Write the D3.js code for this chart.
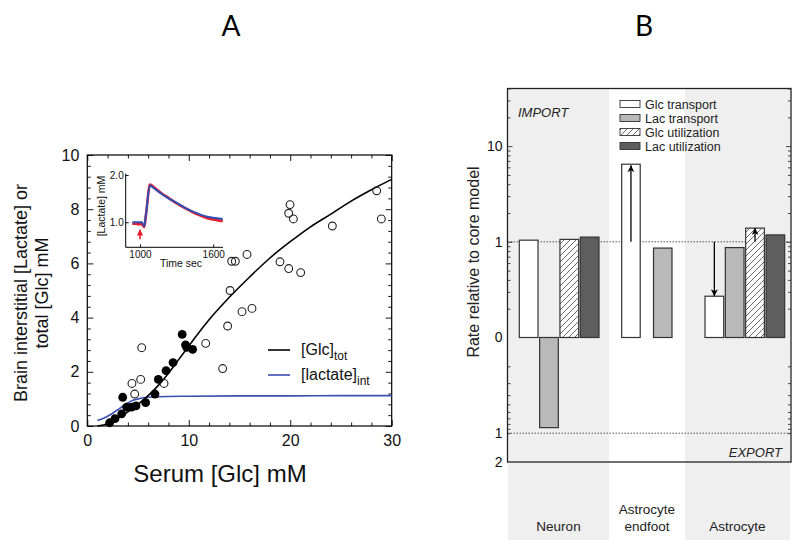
<!DOCTYPE html>
<html><head><meta charset="utf-8">
<script src="https://cdn.jsdelivr.net/npm/d3@7"></script>
<style>
html,body{margin:0;padding:0;background:#fff;}
svg{display:block;font-family:"Liberation Sans",Arial,sans-serif;}
</style></head>
<body>
<svg id="chart" width="800" height="555"></svg>
<script>
// ---------------- DATA: Panel A ----------------
const filledX = [2.2, 2.73, 3.39, 3.49, 3.88, 4.37, 4.8, 5.75, 6.67, 7.0, 7.76, 8.45, 9.35, 9.68, 9.8, 10.38];
const filledY = [0.12, 0.27, 0.45, 1.06, 0.7, 0.7, 0.74, 0.86, 1.18, 1.72, 2.04, 2.34, 3.38, 2.99, 2.9, 2.83];
const openX = [4.4, 4.67, 5.26, 5.36, 7.56, 11.67, 13.34, 13.83, 14.07, 14.23, 14.59, 15.25, 15.74, 16.23, 18.99, 19.85, 19.85, 19.98, 20.31, 21.03, 24.15, 28.52, 28.98];
const openY = [1.57, 1.18, 1.72, 2.89, 1.57, 3.05, 2.12, 3.69, 5.0, 6.08, 6.08, 4.22, 6.33, 4.34, 6.06, 5.81, 7.85, 8.17, 7.64, 5.66, 7.38, 8.68, 7.64];
const glcCurveX = [1, 2, 3, 4, 5, 6, 7, 8, 9, 10, 11, 12, 14, 16, 18, 20, 22, 24, 26, 28, 30];
const glcCurveY = [0, 0.08, 0.28, 0.52, 0.8, 1.12, 1.5, 1.95, 2.45, 2.95, 3.45, 3.92, 4.75, 5.5, 6.2, 6.8, 7.35, 7.82, 8.3, 8.72, 9.1];
const lacCurveX = [1, 1.5, 2, 2.5, 3, 3.5, 4, 4.5, 5, 5.5, 6, 7, 8, 10, 15, 20, 25, 30];
const lacCurveY = [0.2, 0.27, 0.36, 0.47, 0.6, 0.73, 0.85, 0.95, 1.0, 1.04, 1.06, 1.08, 1.09, 1.1, 1.11, 1.11, 1.12, 1.12];
const xTicksA = [0, 10, 20, 30];
const yTicksA = [0, 2, 4, 6, 8, 10];
const legendA = ["[Glc]", "[lactate]"];
const legendASub = ["tot", "int"];
// inset
const insetT = [937, 960, 990, 1014, 1035, 1050, 1082, 1100, 1130, 1178, 1230, 1287, 1340, 1396, 1450, 1506, 1560, 1620, 1678];
const insetBlue = [1.0, 1.0, 1.0, 1.0, 0.92, 1.19, 1.78, 1.75, 1.69, 1.60, 1.51, 1.43, 1.35, 1.27, 1.21, 1.15, 1.11, 1.09, 1.07];
const insetRed = [0.97, 0.97, 0.96, 0.96, 0.9, 1.18, 1.8, 1.77, 1.71, 1.61, 1.52, 1.42, 1.34, 1.26, 1.19, 1.13, 1.08, 1.05, 1.02];
const insetXTicks = [1000, 1600];
const insetYTicks = [1.0, 2.0];
const insetArrowT = 1000, insetArrowFrom = 0.64, insetArrowTo = 0.84;

// ---------------- DATA: Panel B ----------------
const groups = ["Neuron", "Astrocyte endfoot", "Astrocyte"];
const groupLabels = [["Neuron"], ["Astrocyte", "endfoot"], ["Astrocyte"]];
const seriesNames = ["Glc transport", "Lac transport", "Glc utilization", "Lac utilization"];
// positive = import, negative = export (magnitude = rate relative to core model)
const neuronValues = [1.04, -0.875, 1.06, 1.12];
const endfootValues = [6.47, 0.86, null, null];
const astrocyteValues = [0.27, 0.87, 1.39, 1.18];
const arrowGroups = ["Astrocyte endfoot", "Astrocyte", "Astrocyte"];
const arrowSeries = ["Glc transport", "Glc transport", "Glc utilization"];
const arrowFrom = [1, 1, 1];
const arrowTo = [6.3, 0.27, 1.39];
const importTickLabels = [0.1, 1, 10];
const exportTickLabels = [1, 2];

// ---------------- DRAW ----------------
const svg = d3.select("#chart");
const defs = svg.append("defs");

// ===== Panel A =====
const xA = d3.scaleLinear().domain([0, 30]).range([87.3, 391.7]);
const yA = d3.scaleLinear().domain([0, 10]).range([426, 155]);
const gA = svg.append("g");

svg.append("text").attr("x", 231).attr("y", 36).attr("text-anchor", "middle")
  .attr("font-size", 28).attr("font-family", "Lato, 'Liberation Sans', sans-serif").text("A");

// frame
gA.append("rect").attr("x", xA(0)).attr("y", yA(10)).attr("width", xA(30) - xA(0)).attr("height", yA(0) - yA(10))
  .attr("fill", "none").attr("stroke", "#000").attr("stroke-width", 1.2);

function styleAxis(g) {
  g.select(".domain").remove();
  g.selectAll(".tick line").attr("stroke", "#000").attr("stroke-width", 0.9);
}
const xMinorA = d3.range(0, 30.01, 2).filter(v => v % 10 !== 0);
const yMinorA = d3.range(0, 10.01, 0.4).map(v => +v.toFixed(2)).filter(v => Math.abs(v % 2) > 1e-6 && Math.abs(v % 2 - 2) > 1e-6);
// bottom
gA.append("g").attr("transform", `translate(0,${yA(0)})`)
  .call(d3.axisBottom(xA).tickValues(xTicksA).tickSize(-6).tickPadding(9).tickFormat(d3.format("d")))
  .call(styleAxis).call(g => g.selectAll("text").attr("font-size", 16).attr("fill", "#111"));
gA.append("g").attr("transform", `translate(0,${yA(0)})`)
  .call(d3.axisBottom(xA).tickValues(xMinorA).tickSize(-3.5).tickFormat("")).call(styleAxis);
// top
gA.append("g").attr("transform", `translate(0,${yA(10)})`)
  .call(d3.axisTop(xA).tickValues(xTicksA).tickSize(-6).tickFormat("")).call(styleAxis);
gA.append("g").attr("transform", `translate(0,${yA(10)})`)
  .call(d3.axisTop(xA).tickValues(xMinorA).tickSize(-3.5).tickFormat("")).call(styleAxis);
// left
gA.append("g").attr("transform", `translate(${xA(0)},0)`)
  .call(d3.axisLeft(yA).tickValues(yTicksA).tickSize(-6).tickPadding(8).tickFormat(d3.format("d")))
  .call(styleAxis).call(g => g.selectAll("text").attr("font-size", 16).attr("fill", "#111"));
gA.append("g").attr("transform", `translate(${xA(0)},0)`)
  .call(d3.axisLeft(yA).tickValues(yMinorA).tickSize(-3.5).tickFormat("")).call(styleAxis);
// right
gA.append("g").attr("transform", `translate(${xA(30)},0)`)
  .call(d3.axisRight(yA).tickValues(yTicksA).tickSize(-6).tickFormat("")).call(styleAxis);
gA.append("g").attr("transform", `translate(${xA(30)},0)`)
  .call(d3.axisRight(yA).tickValues(yMinorA).tickSize(-3.5).tickFormat("")).call(styleAxis);

// axis titles
gA.append("text").attr("x", 220).attr("y", 482).attr("text-anchor", "middle")
  .attr("font-size", 24).attr("fill", "#111").text("Serum [Glc] mM");
const yTitle = gA.append("text").attr("transform", "translate(27,293) rotate(-90)")
  .attr("text-anchor", "middle").attr("font-size", 18).attr("fill", "#111");
yTitle.append("tspan").attr("x", 0).attr("y", 0).text("Brain interstitial [Lactate] or");
yTitle.append("tspan").attr("x", 0).attr("y", 21).text("total [Glc] mM");

// curves
const lineA = d3.line().x(d => xA(d[0])).y(d => yA(d[1])).curve(d3.curveMonotoneX);
gA.append("path").datum(lacCurveX.map((x, i) => [x, lacCurveY[i]]))
  .attr("d", lineA).attr("fill", "none").attr("stroke", "#3a4fb0").attr("stroke-width", 1.6);
gA.append("path").datum(glcCurveX.map((x, i) => [x, glcCurveY[i]]))
  .attr("d", lineA).attr("fill", "none").attr("stroke", "#000").attr("stroke-width", 1.6);

// points
gA.append("g").selectAll("circle").data(openX.map((x, i) => [x, openY[i]])).join("circle")
  .attr("cx", d => xA(d[0])).attr("cy", d => yA(d[1])).attr("r", 3.9)
  .attr("fill", "none").attr("stroke", "#222").attr("stroke-width", 1.1);
gA.append("g").selectAll("circle").data(filledX.map((x, i) => [x, filledY[i]])).join("circle")
  .attr("cx", d => xA(d[0])).attr("cy", d => yA(d[1])).attr("r", 4.4).attr("fill", "#000");

// legend A
const legAColors = ["#000", "#3a4fb0"];
legendA.forEach((t, i) => {
  const y = 350 + i * 25;
  gA.append("line").attr("x1", 268).attr("x2", 290).attr("y1", y).attr("y2", y)
    .attr("stroke", legAColors[i]).attr("stroke-width", 1.6);
  const tx = gA.append("text").attr("x", 301).attr("y", y + 5).attr("font-size", 16).attr("fill", "#111");
  tx.append("tspan").text(t);
  tx.append("tspan").attr("font-size", 12).attr("dy", 5).text(legendASub[i]);
});

// inset
const xI = d3.scaleLinear().domain([883, 1680]).range([125.7, 223]);
const yIn = d3.scaleLinear().domain([0.47, 2.0]).range([247.3, 175]);
const gI = svg.append("g");
gI.append("line").attr("x1", xI(883)).attr("x2", xI(883)).attr("y1", yIn(0.47)).attr("y2", yIn(2.03)).attr("stroke", "#000").attr("stroke-width", 1);
gI.append("line").attr("x1", xI(883)).attr("x2", xI(1680)).attr("y1", yIn(0.47)).attr("y2", yIn(0.47)).attr("stroke", "#000").attr("stroke-width", 1);
gI.append("g").attr("transform", `translate(0,${yIn(0.47)})`)
  .call(d3.axisBottom(xI).tickValues(insetXTicks).tickSize(-3).tickPadding(4).tickFormat(d3.format("d")))
  .call(styleAxis).call(g => g.selectAll("text").attr("font-size", 10).attr("fill", "#111"));
gI.append("g").attr("transform", `translate(${xI(883)},0)`)
  .call(d3.axisLeft(yIn).tickValues(insetYTicks).tickSize(-3).tickPadding(2).tickFormat(d3.format(".1f")))
  .call(styleAxis).call(g => g.selectAll("text").attr("font-size", 10).attr("fill", "#111"));
gI.append("text").attr("x", 181).attr("y", 267).attr("text-anchor", "middle").attr("font-size", 10.5).attr("fill", "#111").text("Time sec");
gI.append("text").attr("transform", "translate(105,206) rotate(-90)").attr("text-anchor", "middle")
  .attr("font-size", 10.5).attr("fill", "#111").text("[Lactate] mM");
const lineI = d3.line().x(d => xI(d[0])).y(d => yIn(d[1])).curve(d3.curveMonotoneX);
gI.append("path").datum(insetT.map((t, i) => [t, insetRed[i]])).attr("d", lineI)
  .attr("fill", "none").attr("stroke", "#e8202a").attr("stroke-width", 2.6);
gI.append("path").datum(insetT.map((t, i) => [t, insetBlue[i]])).attr("d", lineI)
  .attr("fill", "none").attr("stroke", "#2f4fb5").attr("stroke-width", 2);
defs.append("marker").attr("id", "redHead").attr("viewBox", "0 0 10 10").attr("refX", 9).attr("refY", 5)
  .attr("markerWidth", 4).attr("markerHeight", 4).attr("orient", "auto-start-reverse")
  .append("path").attr("d", "M0,0 L10,5 L0,10 z").attr("fill", "#e8202a");
gI.append("line").attr("x1", xI(insetArrowT)).attr("x2", xI(insetArrowT))
  .attr("y1", yIn(insetArrowFrom)).attr("y2", yIn(insetArrowTo))
  .attr("stroke", "#e8202a").attr("stroke-width", 1.6).attr("marker-end", "url(#redHead)");

// ===== Panel B =====
const yImp = d3.scaleLog().domain([0.1, 40]).range([337.5, 88.5]);
const yExp = d3.scaleLog().domain([0.1, 2]).range([337.5, 462]);
const frameL = 507.5, frameR = 791;
const colEdges = [508, 609, 685, 790];
const colBand = [true, false, true];
const barSpan = [[519.3, 599], [621.7, 672], [705, 784.7]];
const groupValues = [neuronValues, endfootValues, astrocyteValues];
const gB = svg.append("g");

svg.append("text").attr("x", 644).attr("y", 36).attr("text-anchor", "middle")
  .attr("font-size", 28).attr("font-family", "Lato, 'Liberation Sans', sans-serif").text("B");

// background bands
groups.forEach((g, i) => {
  if (colBand[i]) gB.append("rect").attr("x", colEdges[i]).attr("y", yImp(40))
    .attr("width", colEdges[i + 1] - colEdges[i]).attr("height", 540 - yImp(40)).attr("fill", "#efefef");
  groupLabels[i].forEach((line, j, arr) => {
    gB.append("text").attr("x", (colEdges[i] + colEdges[i + 1]) / 2)
      .attr("y", 531 - (arr.length - 1 - j) * 17).attr("text-anchor", "middle")
      .attr("font-size", 13.5).attr("fill", "#222").text(line);
  });
});

// hatch pattern
const pat = defs.append("pattern").attr("id", "hatch").attr("patternUnits", "userSpaceOnUse")
  .attr("width", 6).attr("height", 6);
pat.append("rect").attr("width", 6).attr("height", 6).attr("fill", "#fff");
pat.append("path").attr("d", "M0,6 L6,0 M-1.5,1.5 L1.5,-1.5 M4.5,7.5 L7.5,4.5")
  .attr("stroke", "#444").attr("stroke-width", 0.8);
const fills = { "Glc transport": "#ffffff", "Lac transport": "#b9b9b9", "Glc utilization": "url(#hatch)", "Lac utilization": "#5e5e5e" };

// dotted reference lines
[yImp(1), yExp(1)].forEach(y => gB.append("line").attr("x1", frameL).attr("x2", frameR)
  .attr("y1", y).attr("y2", y).attr("stroke", "#555").attr("stroke-width", 1).attr("stroke-dasharray", "1.5,1.5"));

// bars
const innerScales = {};
groups.forEach((g, gi) => {
  const present = seriesNames.filter((s, si) => groupValues[gi][si] !== null);
  const inner = d3.scaleBand().domain(present).range(barSpan[gi])
    .paddingInner(present.length === 2 ? 0.418 : 0.08).paddingOuter(0);
  innerScales[g] = inner;
  seriesNames.forEach((s, si) => {
    const v = groupValues[gi][si];
    if (v === null) return;
    const y0 = yImp(0.1);
    const y1 = v > 0 ? yImp(v) : yExp(-v);
    gB.append("rect").attr("x", inner(s)).attr("width", inner.bandwidth())
      .attr("y", Math.min(y0, y1)).attr("height", Math.abs(y1 - y0))
      .attr("fill", fills[s]).attr("stroke", "#333").attr("stroke-width", 1.2);
  });
});

// arrows
defs.append("marker").attr("id", "blackHead").attr("viewBox", "0 0 10 10").attr("refX", 10).attr("refY", 5)
  .attr("markerUnits", "userSpaceOnUse")
  .attr("orient", "auto-start-reverse").attr("markerWidth", 11).attr("markerHeight", 7)
  .append("path").attr("d", "M0,0 L10,5 L0,10 L3,5 z").attr("fill", "#000");
arrowGroups.forEach((g, i) => {
  const inner = innerScales[g];
  const cx = inner(arrowSeries[i]) + inner.bandwidth() / 2;
  gB.append("line").attr("x1", cx).attr("x2", cx).attr("y1", yImp(arrowFrom[i])).attr("y2", yImp(arrowTo[i]))
    .attr("stroke", "#000").attr("stroke-width", 1.3).attr("marker-end", "url(#blackHead)");
});

// frame
gB.append("rect").attr("x", frameL).attr("y", yImp(40)).attr("width", frameR - frameL).attr("height", yExp(2) - yImp(40))
  .attr("fill", "none").attr("stroke", "#222").attr("stroke-width", 1.3);

// ticks
const impMinor = [];
[0.1, 1, 10].forEach(d => { for (let k = 2; k <= 9; k++) if (d * k <= 40) impMinor.push(d * k); });
const expMinor = [0.2, 0.3, 0.4, 0.5, 0.6, 0.7, 0.8, 0.9];
[[frameL, d3.axisLeft], [frameR, d3.axisRight]].forEach(([x, ax]) => {
  gB.append("g").attr("transform", `translate(${x},0)`)
    .call(ax(yImp).tickValues([1, 10]).tickSize(-5).tickFormat("")).call(styleAxis);
  gB.append("g").attr("transform", `translate(${x},0)`)
    .call(ax(yImp).tickValues(impMinor).tickSize(-3).tickFormat("")).call(styleAxis);
  gB.append("g").attr("transform", `translate(${x},0)`)
    .call(ax(yExp).tickValues(expMinor.concat([1])).tickSize(-3).tickFormat("")).call(styleAxis);
});
// tick labels
gB.append("g").attr("transform", `translate(${frameL},0)`)
  .call(d3.axisLeft(yImp).tickValues(importTickLabels).tickSize(0).tickPadding(5).tickFormat(d => d === 0.1 ? "0" : d3.format("d")(d)))
  .call(g => g.select(".domain").remove()).call(g => g.selectAll("text").attr("font-size", 14).attr("fill", "#111"));
gB.append("g").attr("transform", `translate(${frameL},0)`)
  .call(d3.axisLeft(yExp).tickValues(exportTickLabels).tickSize(0).tickPadding(5).tickFormat(d3.format("d")))
  .call(g => g.select(".domain").remove()).call(g => g.selectAll("text").attr("font-size", 14).attr("fill", "#111"));
gB.selectAll("line").filter(function(){return this.parentNode.classList && this.parentNode.classList.contains("tick");}).attr("stroke", "#333");

// axis title
gB.append("text").attr("transform", "translate(479,262) rotate(-90)").attr("text-anchor", "middle")
  .attr("font-size", 16).attr("fill", "#222").text("Rate relative to core model");

// IMPORT / EXPORT
gB.append("text").attr("x", 518).attr("y", 117).attr("font-size", 13).attr("font-style", "italic")
  .attr("fill", "#222").text("IMPORT");
gB.append("text").attr("x", 782).attr("y", 457).attr("text-anchor", "end").attr("font-size", 13)
  .attr("font-style", "italic").attr("fill", "#222").text("EXPORT");

// legend B
seriesNames.forEach((s, i) => {
  const y = 104 + i * 14;
  gB.append("rect").attr("x", 620).attr("y", y - 3.5).attr("width", 20).attr("height", 7)
    .attr("fill", fills[s]).attr("stroke", "#333").attr("stroke-width", 0.9);
  gB.append("text").attr("x", 645).attr("y", y + 4.5).attr("font-size", 12.5).attr("fill", "#222").text(s);
});
</script>
</body></html>
